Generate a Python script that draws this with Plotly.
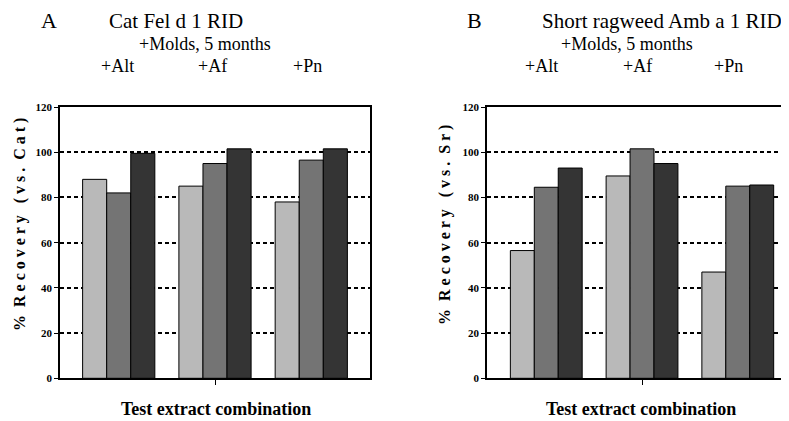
import plotly.graph_objects as go

W, H = 789, 421
OFF = 8  # page body margin offset

groups = ["+Alt", "+Af", "+Pn"]
series_colors = ["#b9b9b9", "#747474", "#343434"]
series_names = ["Extract 1", "Extract 2", "Extract 3"]

cat_values = [
    [88, 85, 78],      # light bars
    [82, 95, 96.5],    # mid bars
    [99.5, 101.5, 101.5],  # dark bars
]
rag_values = [
    [56.5, 89.5, 47],
    [84.5, 101.5, 85],
    [93, 95, 85.5],
]
y_ticks = [0, 20, 40, 60, 80, 100, 120]

def px(x):
    return (x - OFF) / W

def py(y):
    return 1 - (y - OFF) / H

fig = go.Figure()
xs = [0, 1, 2]
for i in range(3):
    fig.add_trace(go.Bar(x=xs, y=cat_values[i], xaxis="x", yaxis="y",
                         marker=dict(color=series_colors[i], line=dict(color="black", width=1)),
                         name=series_names[i], showlegend=False))
    fig.add_trace(go.Bar(x=xs, y=rag_values[i], xaxis="x2", yaxis="y2",
                         marker=dict(color=series_colors[i], line=dict(color="black", width=1)),
                         name=series_names[i], showlegend=False))

ydom = [py(378.3), py(107)]
tickfont = dict(family="Liberation Serif", size=11, color="black", weight="bold")
yax_common = dict(range=[0, 120], tickvals=y_ticks, showgrid=True, gridcolor="black",
                  griddash="4px,3px", gridwidth=1.6, showline=True, linecolor="black",
                  linewidth=1.5, ticks="outside", ticklen=4, tickcolor="black",
                  tickfont=tickfont, zeroline=False, domain=ydom, fixedrange=True,
                  automargin=False)
xax_common = dict(tickvals=[1], ticktext=[""], ticks="outside", ticklen=5, tickcolor="black",
                  showline=True, linecolor="black", linewidth=1.5, showgrid=False,
                  zeroline=False, mirror=True, automargin=False)

# right panel: frame extends past the window edge (ref px ~797)
x2_end = 797
x2_range_end = -0.619 + (x2_end - 487) / 95.75

fig.update_layout(
    width=W, height=H, autosize=False,
    margin=dict(l=0, r=0, t=0, b=0, pad=0, autoexpand=False),
    paper_bgcolor="white", plot_bgcolor="white",
    barmode="group", bargap=0.25, bargroupgap=0,
    xaxis=dict(domain=[px(60), px(370)], range=[-0.61, 2.61], anchor="y", **xax_common),
    yaxis=dict(anchor="x", mirror=True, **yax_common),
    xaxis2=dict(domain=[px(487), px(x2_end)], range=[-0.619, x2_range_end], anchor="y2", **xax_common),
    yaxis2=dict(anchor="x2", mirror=True, **yax_common),
)

serif = "Liberation Serif"
ann = []
def add(text, x, y, size, bold=False, angle=0):
    ann.append(dict(text=text, x=px(x), y=py(y), xref="paper", yref="paper",
                    showarrow=False, textangle=angle, xanchor="center", yanchor="middle",
                    font=dict(family=serif, size=size, color="black",
                              weight="bold" if bold else "normal")))

# Panel A
add("A", 49, 21, 22)
add("Cat Fel d 1 RID", 176, 21, 21)
add("+Molds, 5 months", 205, 44, 18)
for g, cx in zip(groups, [118, 212, 307]):
    add(g, cx, 66, 18)
add("%  R e c o v e r y   ( v s .  C a t )", 20, 225, 16, bold=True, angle=-90)
add("Test extract combination", 216, 409, 18, bold=True)

# Panel B
add("B", 474, 21, 22)
add("Short ragweed Amb a 1 RID", 662, 21, 21)
add("+Molds, 5 months", 627, 44, 18)
for g, cx in zip(groups, [541, 637, 728]):
    add(g, cx, 66, 18)
add("%  R e c o v e r y   ( v s .  S r )", 445, 225, 16, bold=True, angle=-90)
add("Test extract combination", 641, 409, 18, bold=True)

fig.update_layout(annotations=ann)
fig.write_html("out.html")
